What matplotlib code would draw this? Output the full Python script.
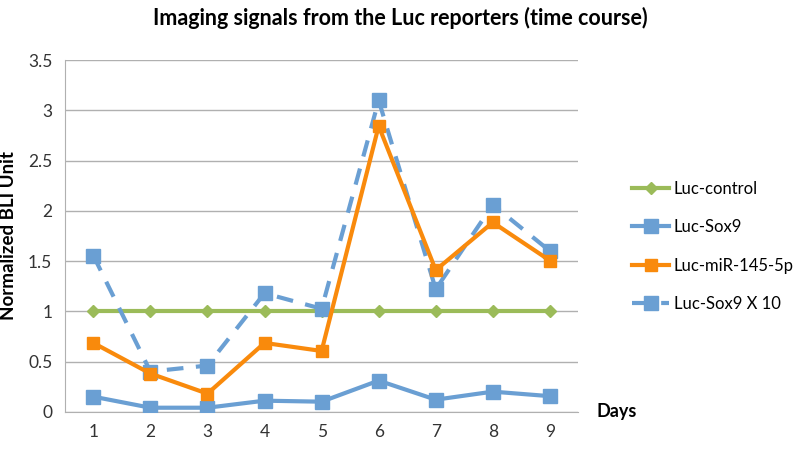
import matplotlib
matplotlib.use("Agg")
import matplotlib.pyplot as plt

plt.rcParams['font.family'] = ['Lato', 'DejaVu Sans']

days = [1, 2, 3, 4, 5, 6, 7, 8, 9]
luc_control = [1, 1, 1, 1, 1, 1, 1, 1, 1]
luc_sox9 = [0.15, 0.04, 0.04, 0.11, 0.10, 0.31, 0.12, 0.20, 0.155]
luc_mir145 = [0.685, 0.38, 0.18, 0.685, 0.605, 2.845, 1.41, 1.885, 1.505]
luc_sox9_x10 = [1.555, 0.40, 0.46, 1.18, 1.025, 3.10, 1.22, 2.06, 1.60]
yticks = [0, 0.5, 1, 1.5, 2, 2.5, 3, 3.5]
ytick_labels = ['0', '0.5', '1', '1.5', '2', '2.5', '3', '3.5']

green = '#9BBB59'
blue = '#6A9FD3'
orange = '#F98A0C'

fig = plt.figure(figsize=(8, 4.49), dpi=100)
ax = fig.add_axes([0.081, 0.083, 0.642, 0.783])

ax.plot(days, luc_control, color=green, lw=3, marker='D', ms=6.5,
        label='Luc-control', zorder=3)
ax.plot(days, luc_sox9, color=blue, lw=3, marker='s', ms=10,
        label='Luc-Sox9', zorder=3)
ax.plot(days, luc_mir145, color=orange, lw=3, marker='s', ms=8,
        label='Luc-miR-145-5p', zorder=4)
ax.plot(days, luc_sox9_x10, color=blue, lw=3, ls=(0, (4, 3)), marker='s',
        ms=10, label='Luc-Sox9 X 10', zorder=3)

# axes styling
ax.set_xlim(0.5, 9.5)
ax.set_ylim(0, 3.5)
ax.set_yticks(yticks)
ax.set_yticklabels(ytick_labels)
ax.set_xticks(days)
ax.tick_params(axis='both', length=0, labelsize=12.5, colors='#333333', pad=9)
ax.grid(axis='y', color='#B0B0B0', lw=1)
ax.set_axisbelow(True)
for side in ['top', 'right']:
    ax.spines[side].set_visible(False)
ax.spines['left'].set_color('#B0B0B0')
ax.spines['bottom'].set_color('#B0B0B0')

ax.set_ylabel('Normalized BLI Unit', fontsize=13.5, fontweight='bold', labelpad=8)
ax.text(1.035, 0.0, 'Days', transform=ax.transAxes, fontsize=13,
        fontweight='bold', va='center', ha='left')

fig.suptitle('Imaging signals from the Luc reporters (time course)',
             x=0.5, y=0.985, fontsize=15.5, fontweight='bold')

leg = ax.legend(loc='center left', bbox_to_anchor=(1.092, 0.47), frameon=False,
                fontsize=12, handlelength=2.2, handletextpad=0.3,
                labelspacing=1.35, borderaxespad=0)

fig.savefig('out.png', dpi=100)
